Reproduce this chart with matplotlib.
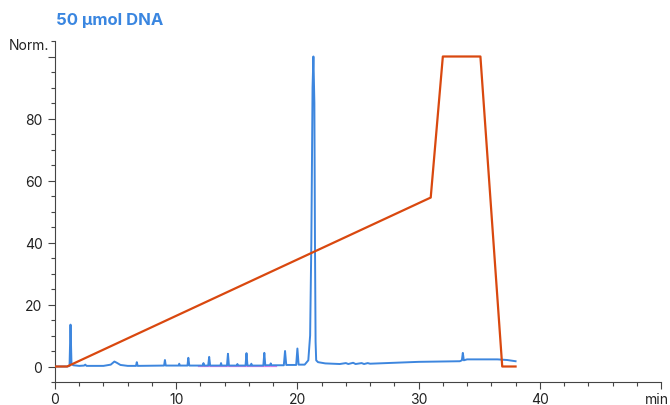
import matplotlib.pyplot as plt
import matplotlib.transforms as mtransforms
from matplotlib.ticker import MultipleLocator

plt.rcParams['font.family'] = ['Inter', 'DejaVu Sans']

# UV trace (blue)
trace_t = [0.0, 1.0, 1.2, 1.28, 1.36, 1.5, 2.0, 2.4, 2.5, 2.6, 4.0, 4.6, 4.9, 5.1, 5.4,
           6.0, 6.68, 6.75, 6.82, 9.0, 9.07, 9.14, 10.2, 10.25, 10.3, 10.93, 11.0, 11.08,
           12.2, 12.25, 12.3, 12.64, 12.72, 12.8, 13.65, 13.7, 13.75, 14.19, 14.27, 14.35,
           15.0, 15.05, 15.1, 15.72, 15.8, 15.88, 16.15, 16.2, 16.25, 17.19, 17.27, 17.35,
           17.75, 17.8, 17.85, 18.88, 18.98, 19.08, 19.9, 20.0, 20.1, 20.6, 20.9, 21.05,
           21.15, 21.25, 21.32, 21.4, 21.45, 21.5, 21.55, 21.7, 22.3, 23.5, 24.0, 24.2,
           24.6, 24.8, 25.3, 25.5, 25.8, 26.0, 28.0, 30.0, 33.4, 33.57, 33.65, 33.73,
           34.0, 36.5, 37.3, 38.0]
trace_v = [0.0, 0.0, 0.2, 13.5, 1.0, 0.4, 0.2, 0.3, 0.6, 0.2, 0.2, 0.6, 1.6, 1.2, 0.5,
           0.2, 0.2, 1.4, 0.2, 0.3, 2.1, 0.3, 0.3, 0.9, 0.3, 0.3, 2.8, 0.3,
           0.3, 1.1, 0.3, 0.3, 3.1, 0.3, 0.3, 1.1, 0.3, 0.3, 4.1, 0.3,
           0.3, 0.8, 0.3, 0.3, 4.3, 0.3, 0.3, 0.9, 0.3, 0.3, 4.4, 0.4,
           0.4, 1.0, 0.4, 0.4, 5.0, 0.5, 0.5, 5.8, 0.6, 0.6, 2.0, 10.0,
           40.0, 90.0, 100.0, 85.0, 40.0, 8.0, 2.0, 1.4, 1.0, 0.8, 1.1, 0.8,
           1.2, 0.8, 1.1, 0.8, 1.1, 0.9, 1.2, 1.5, 1.7, 2.0, 4.4, 2.0,
           2.3, 2.3, 2.1, 1.7]

# faint magenta trace mostly hidden under the blue one
trace2_t = [11.8, 12.7, 14.3, 15.8, 17.3, 18.2]
trace2_v = [0.15, 0.15, 0.15, 0.15, 0.15, 0.15]

# gradient program (orange)
grad_t = [0.0, 1.0, 31.0, 32.0, 35.1, 36.9, 38.0]
grad_v = [0.0, 0.0, 54.5, 100.0, 100.0, 0.0, 0.0]

x_ticks = [0, 10, 20, 30, 40, 50]
x_labels = ['0', '10', '20', '30', '40', 'min']
y_ticks = [0, 20, 40, 60, 80, 100]
y_labels = ['0', '20', '40', '60', '80', '']

fig = plt.figure(figsize=(6.7, 4.06), dpi=100)
ax = fig.add_axes([55 / 670, 23 / 406, 606 / 670, 341 / 406])

ax.plot(trace2_t, trace2_v, color='#e65ce6', lw=0.9, alpha=0.8, zorder=1)
ax.plot(trace_t, trace_v, color='#3d86de', lw=1.4, zorder=2)
ax.plot(grad_t, grad_v, color='#d9480f', lw=1.6, zorder=3)

ax.set_xlim(0, 50)
ax.set_ylim(-5, 105)
ax.set_xticks(x_ticks)
ax.set_xticklabels(x_labels)
ax.set_yticks(y_ticks)
ax.set_yticklabels(y_labels)
ax.xaxis.set_minor_locator(MultipleLocator(2))
ax.yaxis.set_minor_locator(MultipleLocator(5))
ax.tick_params(axis='both', which='major', length=5, width=0.8, color='#444444',
               labelsize=10, labelcolor='#222222')
ax.tick_params(axis='x', which='major', pad=2)
ax.tick_params(axis='y', which='major', pad=4)
ax.tick_params(axis='both', which='minor', length=3, width=0.8, color='#444444')

# pull the "min" unit label a little inside the figure
shift = mtransforms.ScaledTranslation(-4 / 100, 0, fig.dpi_scale_trans)
lab = ax.get_xticklabels()[-1]
lab.set_transform(lab.get_transform() + shift)

for side in ['top', 'right']:
    ax.spines[side].set_visible(False)
for side in ['left', 'bottom']:
    ax.spines[side].set_color('#444444')
    ax.spines[side].set_linewidth(0.8)

ax.text(-0.01, 0.988, 'Norm.', transform=ax.transAxes, ha='right', va='center',
        fontsize=10, color='#222222')
fig.text(56 / 670, 1 - 20 / 406, '50 µmol DNA', ha='left', va='center',
         fontsize=12, fontweight='bold', color='#3a86e0')

fig.savefig('out.png', dpi=100)
